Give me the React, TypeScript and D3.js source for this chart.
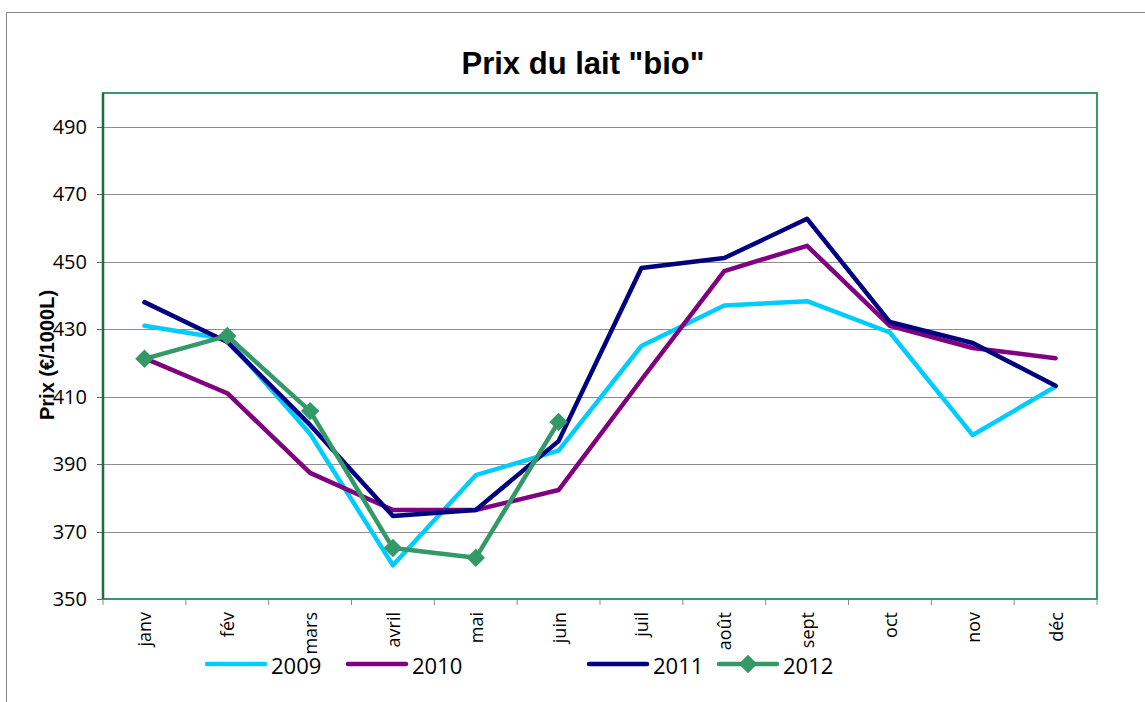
import React, { useRef, useEffect } from "react";
import * as d3 from "d3";

const months = ["janv", "fév", "mars", "avril", "mai", "juin", "juil", "août", "sept", "oct", "nov", "déc"];
const yTicks = [350, 370, 390, 410, 430, 450, 470, 490];

const v2009 = [431, 427, 399, 360, 386.7, 394, 425, 437, 438.3, 429, 398.6, 413];
const v2010 = [421.4, 411, 387.4, 376.4, 376.4, 382.3, 415, 447.2, 454.7, 431, 424.4, 421.4];
const v2011 = [438, 426.2, 401.6, 374.6, 376.4, 396.8, 448.1, 451.1, 462.7, 432.1, 425.9, 413.2];
const v2012 = [421.2, 428, 405.7, 365.1, 362.2, 402.5];

const series = [
  { name: "2009", values: v2009, color: "#00CCFF", marker: false },
  { name: "2010", values: v2010, color: "#800080", marker: false },
  { name: "2011", values: v2011, color: "#000080", marker: false },
  { name: "2012", values: v2012, color: "#339966", marker: true },
];

const App = () => {
  const svgRef = useRef<SVGSVGElement>(null);

  useEffect(() => {
    const svg = d3.select(svgRef.current);
    svg.selectAll("*").remove();

    // plot area in page coordinates (svg sits at 0,0 of the page)
    const left = 103, right = 1097, top = 93, bottom = 599;

    const x = d3.scaleBand<string>().domain(months).range([left, right]);
    const y = d3.scaleLinear().domain([350, 500]).range([bottom, top]);

    // outer chart border
    svg.append("rect")
      .attr("x", 6.5).attr("y", 12.5)
      .attr("width", 1200).attr("height", 800)
      .attr("fill", "white").attr("stroke", "#888").attr("stroke-width", 1);

    // title
    svg.append("text")
      .attr("x", 583).attr("y", 74)
      .attr("text-anchor", "middle")
      .style("font-family", "Liberation Sans, Arial, sans-serif")
      .style("font-size", "31px").style("font-weight", "bold")
      .text('Prix du lait "bio"');

    // gridlines
    svg.append("g").selectAll("line")
      .data(yTicks.filter((d) => d > 350))
      .enter().append("line")
      .attr("x1", left).attr("x2", right)
      .attr("y1", (d) => Math.round(y(d)) + 0.5).attr("y2", (d) => Math.round(y(d)) + 0.5)
      .attr("stroke", "#8c8c8c").attr("stroke-width", 1);

    // y ticks and labels
    const yg = svg.append("g");
    yg.selectAll("line").data(yTicks).enter().append("line")
      .attr("x1", left - 6).attr("x2", left)
      .attr("y1", (d) => Math.round(y(d)) + 0.5).attr("y2", (d) => Math.round(y(d)) + 0.5)
      .attr("stroke", "#666");
    yg.selectAll("text").data(yTicks).enter().append("text")
      .attr("x", 87).attr("y", (d) => y(d) + 7)
      .attr("text-anchor", "end")
      .style("font-family", "Open Sans, Liberation Sans, sans-serif")
      .style("font-size", "20px")
      .text((d) => d);

    // x ticks
    const xTickPos = months.map((m) => x(m) as number).concat([right]);
    svg.append("g").selectAll("line").data(xTickPos).enter().append("line")
      .attr("x1", (d) => d).attr("x2", (d) => d)
      .attr("y1", bottom).attr("y2", bottom + 6)
      .attr("stroke", "#888");

    // x labels
    svg.append("g").selectAll("text").data(months).enter().append("text")
      .attr("transform", (d) => `translate(${(x(d) as number) + x.bandwidth() / 2 + 7},${612}) rotate(-90)`)
      .attr("text-anchor", "end")
      .style("font-family", "Open Sans, Liberation Sans, sans-serif")
      .style("font-size", "18px")
      .text((d) => d);

    // plot border
    svg.append("rect")
      .attr("x", left).attr("y", top)
      .attr("width", right - left).attr("height", bottom - top)
      .attr("fill", "none").attr("stroke", "#339966").attr("stroke-width", 2);
    svg.append("line")
      .attr("x1", left).attr("x2", left).attr("y1", top).attr("y2", bottom)
      .attr("stroke", "#1f6b44").attr("stroke-width", 2.5);

    // y-axis title
    svg.append("text")
      .attr("transform", `translate(${54},${355}) rotate(-90)`)
      .attr("text-anchor", "middle")
      .style("font-family", "Liberation Sans, Arial, sans-serif")
      .style("font-size", "20px").style("font-weight", "bold")
      .text("Prix (€/1000L)");

    // lines
    const cx = (i: number) => (x(months[i]) as number) + x.bandwidth() / 2;
    const line = d3.line<number>().x((d, i) => cx(i)).y((d) => y(d));
    const diamond = d3.symbol().type(d3.symbolSquare).size(170);

    series.forEach((s) => {
      svg.append("path")
        .attr("d", line(s.values))
        .attr("fill", "none").attr("stroke", s.color)
        .attr("stroke-width", 4.5).attr("stroke-linejoin", "round").attr("stroke-linecap", "round");
      if (s.marker) {
        svg.append("g").selectAll("path").data(s.values).enter().append("path")
          .attr("d", diamond)
          .attr("transform", (d, i) => `translate(${cx(i)},${y(d)}) rotate(45)`)
          .attr("fill", s.color);
      }
    });

    // legend
    const legX = [207, 348, 589, 719];
    const legY = 664;
    series.forEach((s, i) => {
      const g = svg.append("g").attr("transform", `translate(${legX[i]},${legY})`);
      g.append("line").attr("x1", 0).attr("x2", 58).attr("y1", 0).attr("y2", 0)
        .attr("stroke", s.color).attr("stroke-width", 4.5).attr("stroke-linecap", "round");
      if (s.marker) {
        g.append("path").attr("d", diamond).attr("transform", "translate(29,0) rotate(45)").attr("fill", s.color);
      }
      g.append("text").attr("x", 64).attr("y", 10)
        .style("font-family", "Open Sans, Liberation Sans, sans-serif")
        .style("font-size", "22px")
        .text(s.name);
    });
  }, []);

  return (
    <div style={{ position: "absolute", left: 0, top: 0 }}>
      <svg ref={svgRef} width={1145} height={702}></svg>
    </div>
  );
};

export default App;
